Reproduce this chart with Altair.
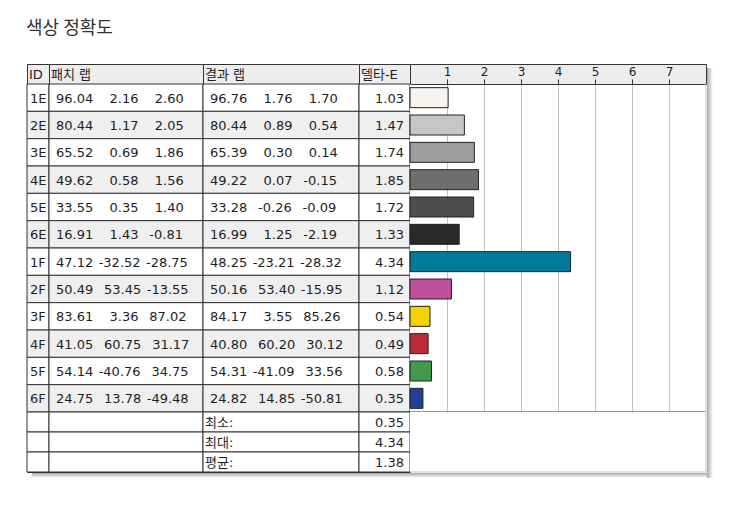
import altair as alt
import pandas as pd

# ---------------- data ----------------
ids = ["1E", "2E", "3E", "4E", "5E", "6E", "1F", "2F", "3F", "4F", "5F", "6F"]
patch_L = [96.04, 80.44, 65.52, 49.62, 33.55, 16.91, 47.12, 50.49, 83.61, 41.05, 54.14, 24.75]
patch_a = [2.16, 1.17, 0.69, 0.58, 0.35, 1.43, -32.52, 53.45, 3.36, 60.75, -40.76, 13.78]
patch_b = [2.60, 2.05, 1.86, 1.56, 1.40, -0.81, -28.75, -13.55, 87.02, 31.17, 34.75, -49.48]
result_L = [96.76, 80.44, 65.39, 49.22, 33.28, 16.99, 48.25, 50.16, 84.17, 40.80, 54.31, 24.82]
result_a = [1.76, 0.89, 0.30, 0.07, -0.26, 1.25, -23.21, 53.40, 3.55, 60.20, -41.09, 14.85]
result_b = [1.70, 0.54, 0.14, -0.15, -0.09, -2.19, -28.32, -15.95, 85.26, 30.12, 33.56, -50.81]
delta_e = [1.03, 1.47, 1.74, 1.85, 1.72, 1.33, 4.34, 1.12, 0.54, 0.49, 0.58, 0.35]
header_labels = ["ID", "패치 랩", "결과 랩", "델타-E"]
summary_labels = ["최소:", "최대:", "평균:"]
summary_values = [0.35, 4.34, 1.38]
axis_ticks = [1, 2, 3, 4, 5, 6, 7]

# ---------------- style ----------------
bar_colors = ["#f7f3f1", "#c6c6c6", "#9c9c9c", "#6e6e6e", "#4d4d4d", "#2a2a2a",
              "#00799c", "#bf4e9b", "#f4d200", "#bd2a3a", "#3f9b4b", "#22409a"]
COL_W = [22, 154, 156, 51, 296]
HEAD_H, DATA_H, SUM_H = 20, 328, 60
BORDER = "#333333"
STRIPE = "#efefef"
HEADF = "#ededed"
TXT = "#1e1e1e"
GRID = "#c2c2c2"
EDGE = "#c4c4c4"
FONT = "DejaVu Sans, Noto Sans CJK KR, sans-serif"
FS = 13
SH = 7

SP = "\u00a0\u200a"   # one padding "space" (slightly wider than a plain space)


def pad6(v):
    s = f"{v:.2f}"
    return SP * (6 - len(s)) + s


def lab_text(L, a, b):
    return f"{L:.2f}" + SP + pad6(a) + SP + pad6(b)


data = pd.DataFrame({
    "id": ids,
    "patch": [lab_text(*t) for t in zip(patch_L, patch_a, patch_b)],
    "result": [lab_text(*t) for t in zip(result_L, result_a, result_b)],
    "de": delta_e,
    "de_txt": [f"{v:.2f}" for v in delta_e],
    "stripe": [i % 2 for i in range(len(ids))],
})
summ = pd.DataFrame({
    "label": summary_labels,
    "value": [f"{v:.2f}" for v in summary_values],
})
one = pd.DataFrame({"k": [0]})

Yd = alt.Y("id:N", sort=ids, axis=None,
           scale=alt.Scale(paddingInner=0, paddingOuter=0))
Ys = alt.Y("label:N", sort=summary_labels, axis=None,
           scale=alt.Scale(paddingInner=0, paddingOuter=0))

H_GRAD = alt.Gradient(gradient="linear", x1=0, y1=0, x2=1, y2=0,
                      stops=[alt.GradientStop(color="#a8a8a8", offset=0),
                             alt.GradientStop(color="#ffffff", offset=1)])
V_GRAD = alt.Gradient(gradient="linear", x1=0, y1=0, x2=0, y2=1,
                      stops=[alt.GradientStop(color="#a8a8a8", offset=0),
                             alt.GradientStop(color="#ffffff", offset=1)])


def shadow_right(w, y0, y1):
    return alt.Chart(one).mark_rect(fill=H_GRAD).encode(
        x=alt.value(w + 1), x2=alt.value(w + SH), y=alt.value(y0), y2=alt.value(y1))


def shadow_bottom(h, x0, x1):
    return alt.Chart(one).mark_rect(fill=V_GRAD).encode(
        x=alt.value(x0), x2=alt.value(x1), y=alt.value(h + 1), y2=alt.value(h + SH - 1))


panels = []

# ---------------- header row ----------------
for lbl, w in zip(header_labels, COL_W[:4]):
    panels.append(
        alt.Chart(pd.DataFrame({"h": [lbl]})).mark_text(
            align="left", baseline="middle", font=FONT, fontSize=FS, color=TXT
        ).encode(text="h:N", x=alt.value(2), y=alt.value(HEAD_H / 2 + 1))
        .properties(width=w, height=HEAD_H,
                    view=alt.ViewBackground(fill=HEADF, stroke=BORDER))
    )
Wb = COL_W[4]
panels.append(
    alt.layer(shadow_right(Wb, 4, HEAD_H)).properties(
        width=Wb, height=HEAD_H, view=alt.ViewBackground(fill=HEADF, stroke=BORDER))
)


# ---------------- data rows ----------------
def data_cell(w, field, align="left", pad=7):
    bg = alt.Chart(data).mark_rect(stroke=BORDER, strokeWidth=1).encode(
        y=Yd, x=alt.value(0), x2=alt.value(w),
        fill=alt.condition(alt.datum.stripe == 1, alt.value(STRIPE), alt.value("white")))
    txt = alt.Chart(data).mark_text(
        align=align, baseline="middle", font=FONT, fontSize=FS, color=TXT, dy=1
    ).encode(y=Yd, x=alt.value(pad if align == "left" else w - pad),
             text=f"{field}:N")
    return alt.layer(bg, txt).properties(
        width=w, height=DATA_H, view=alt.ViewBackground(stroke=BORDER, fill="white"))


bars = alt.Chart(data).mark_bar(size=20, stroke="#222222", strokeWidth=1).encode(
    x=alt.X("de:Q", scale=alt.Scale(domain=[0, 8], nice=False),
            axis=alt.Axis(orient="top", values=axis_ticks, grid=True, gridColor=GRID,
                          gridWidth=1, tickColor=BORDER, tickSize=5, tickWidth=1,
                          domain=True, domainColor=BORDER, labelFont=FONT,
                          labelFontSize=12, labelColor=TXT, labelPadding=1,
                          labelAngle=0, title=None)),
    y=Yd,
    color=alt.Color("id:N", scale=alt.Scale(domain=ids, range=bar_colors), legend=None),
)
bottom_line = alt.Chart(one).mark_rule(color=BORDER, strokeWidth=1).encode(
    x=alt.value(0), x2=alt.value(Wb), y=alt.value(DATA_H))
right_line = alt.Chart(one).mark_rule(color=EDGE, strokeWidth=1).encode(
    x=alt.value(Wb), y=alt.value(0), y2=alt.value(DATA_H))
bar_panel = alt.layer(bars, bottom_line, right_line, shadow_right(Wb, 0, DATA_H)).properties(
    width=Wb, height=DATA_H, view=alt.ViewBackground(stroke=None, fill="white"))

panels += [
    data_cell(COL_W[0], "id", pad=3),
    data_cell(COL_W[1], "patch"),
    data_cell(COL_W[2], "result"),
    data_cell(COL_W[3], "de_txt", align="right", pad=6),
    bar_panel,
]


# ---------------- summary rows ----------------
def sum_cell(w, field=None, align="left", pad=2, x0=0):
    bg = alt.Chart(summ).mark_rect(stroke=BORDER, strokeWidth=1, fill="white").encode(
        y=Ys, x=alt.value(0), x2=alt.value(w))
    layers = [bg]
    if field:
        layers.append(alt.Chart(summ).mark_text(
            align=align, baseline="middle", font=FONT, fontSize=FS, color=TXT, dy=1
        ).encode(y=Ys, x=alt.value(pad if align == "left" else w - pad),
                 text=f"{field}:N"))
    layers.append(shadow_bottom(SUM_H, x0, w))
    return alt.layer(*layers).properties(
        width=w, height=SUM_H, view=alt.ViewBackground(stroke=BORDER, fill="white"))


sum_bar = alt.layer(
    alt.Chart(one).mark_rule(color=EDGE, strokeWidth=1).encode(
        x=alt.value(Wb), y=alt.value(0), y2=alt.value(SUM_H)),
    alt.Chart(one).mark_rule(color=EDGE, strokeWidth=1).encode(
        x=alt.value(0), x2=alt.value(Wb), y=alt.value(SUM_H)),
    shadow_right(Wb, 0, SUM_H + SH - 1),
    shadow_bottom(SUM_H, 0, Wb + 1),
).properties(width=Wb, height=SUM_H, view=alt.ViewBackground(stroke=None, fill="white"))

panels += [
    sum_cell(COL_W[0], x0=5),
    sum_cell(COL_W[1]),
    sum_cell(COL_W[2], "label", pad=2),
    sum_cell(COL_W[3], "value", align="right", pad=6),
    sum_bar,
]

chart = alt.concat(
    *panels, columns=5, spacing=0, bounds="flush"
).properties(
    title=alt.TitleParams("색상 정확도", anchor="start", fontSize=18,
                          font="Noto Sans CJK KR", fontWeight="normal",
                          color="#333333", offset=26),
    padding={"left": 26, "top": 19, "right": 10, "bottom": 10},
    background="white",
)

chart.save("out.html", embed_options={"renderer": "svg", "actions": False})
